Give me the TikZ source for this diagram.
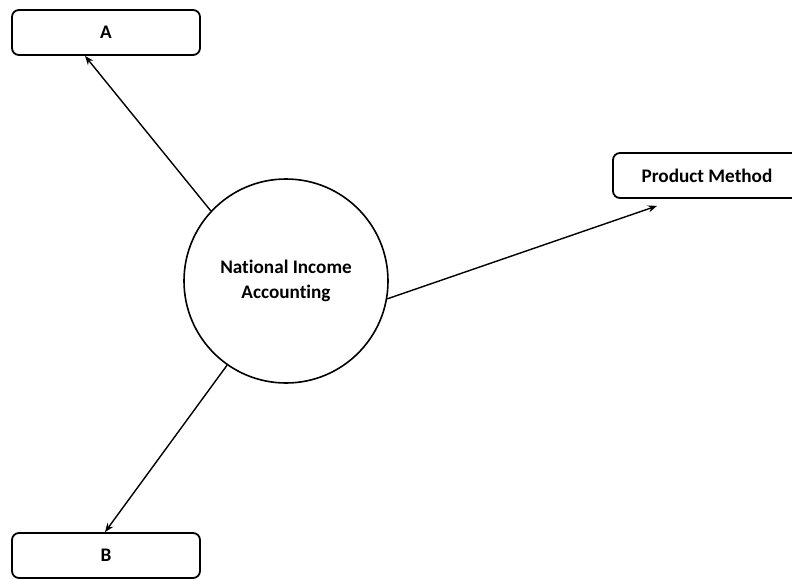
\documentclass[tikz,border=0pt]{standalone}
\usepackage{fontspec}
\setmainfont{Carlito}[Ligatures=NoCommon]
\usetikzlibrary{arrows.meta}
\tikzset{
  box/.style={draw, line width=1.8pt, rounded corners=7pt, minimum width=188pt, minimum height=45pt, inner sep=0pt, font=\bfseries\fontsize{19.2}{22}\selectfont},
  hub/.style={draw, circle, line width=1.6pt, minimum size=204pt, inner sep=0pt, align=center, font=\bfseries\fontsize{19.2}{25}\selectfont},
  conn/.style={line width=1.4pt, -{Stealth[length=9pt,width=7pt]}}
}
\begin{document}
\begin{tikzpicture}[x=1pt,y=-1pt]
\useasboundingbox (0,0) rectangle (792,578);
\node[hub] (c) at (286,281) {National Income\\Accounting};
\node[box] (A) at (106,32.5) {A};
\node[box] (B) at (106,555.5) {B};
\node[box] (P) at (707,175.5) {Product Method};
\draw[conn] (c.137) -- ([xshift=-21pt]A.south);
\draw[conn] (c.235.6) -- ([xshift=-1pt]B.north);
\draw[conn] (c.-10.5) -- ([xshift=-50pt,yshift=-7pt]P.south);
\end{tikzpicture}
\end{document}
